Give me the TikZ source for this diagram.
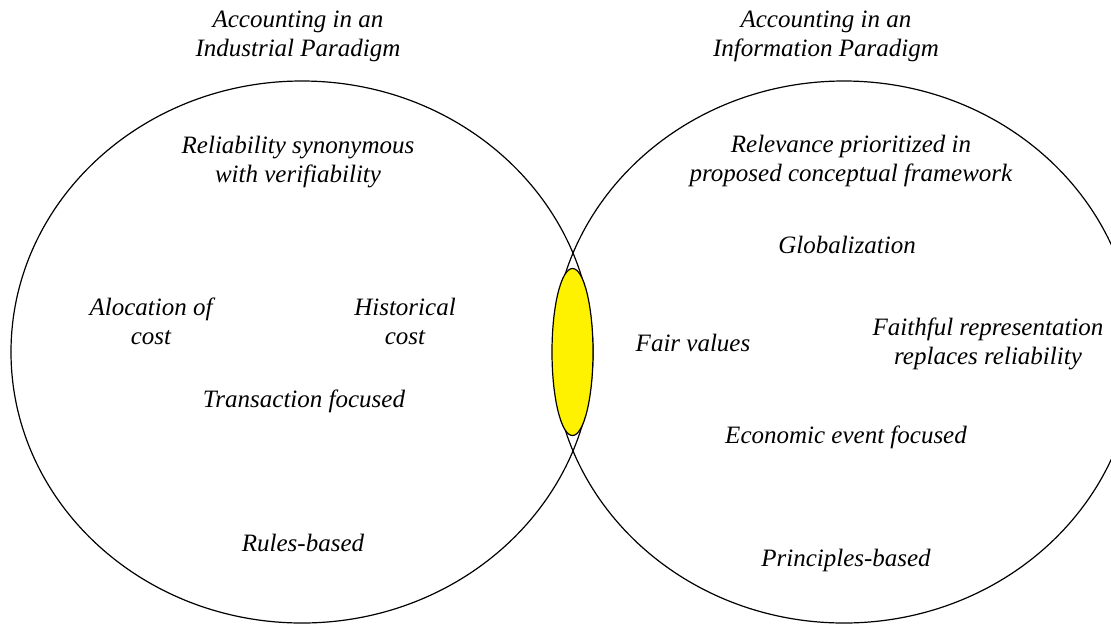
\documentclass[tikz,border=0pt]{standalone}
\usepackage{fontspec}
\setmainfont{Liberation Serif}
\usepackage{tikz}
\usetikzlibrary{shapes.geometric}

\tikzset{
  paradigm/.style={draw, ellipse, line width=1.2pt, inner sep=0pt, minimum width=582pt, minimum height=542pt},
  label/.style={align=center, font=\fontsize{25}{29}\selectfont\itshape}
}

\begin{document}
\begin{tikzpicture}[x=1pt, y=-1pt]
    \clip (0,0) rectangle (1111,625);

    \node[paradigm] (Industrial) at (302,352) {};
    \node[paradigm] (Information) at (844,352) {};
    \node[draw, ellipse, line width=1.2pt, fill=yellow, inner sep=0pt, minimum width=41pt, minimum height=167pt] (Overlap) at (572.5,352) {};

    \node[label] (IndTitle) at (298,36) {Accounting in an\\Industrial Paradigm};
    \node[label] (InfTitle) at (826,36) {Accounting in an\\Information Paradigm};

    \node[label] (Reliab) at (298,162) {Reliability synonymous\\with verifiability};
    \node[label] (Alloc) at (151,321) {Alocation of\\cost};
    \node[label] (Hist) at (405,321) {Historical\\cost};
    \node[label] (Trans) at (304,401) {Transaction focused};
    \node[label] (Rules) at (303,543) {Rules-based};

    \node[label] (Relev) at (851,161) {Relevance prioritized in\\proposed conceptual framework};
    \node[label] (Global) at (847,245) {Globalization};
    \node[label] (Fair) at (693,343) {Fair values};
    \node[label] (Faith) at (988,344) {Faithful representation\\replaces reliability};
    \node[label] (Econ) at (846,437) {Economic event focused};
    \node[label] (Princ) at (846,560) {Principles-based};

\end{tikzpicture}
\end{document}
